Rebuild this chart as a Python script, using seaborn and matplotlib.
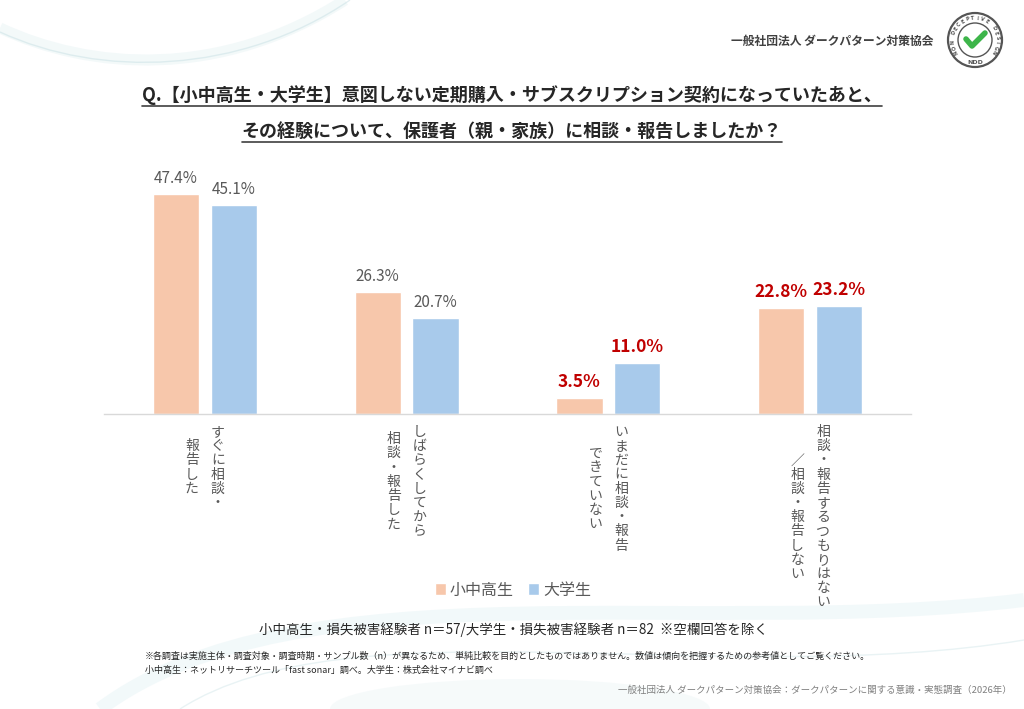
import matplotlib
matplotlib.use("Agg")
import matplotlib.pyplot as plt
import matplotlib.patches as mpatches
from matplotlib.path import Path
from matplotlib.lines import Line2D
import seaborn as sns
import pandas as pd
import numpy as np

# data
categories = ["すぐに相談・報告した", "しばらくしてから相談・報告した",
              "いまだに相談・報告できていない", "相談・報告するつもりはない／相談・報告しない"]
# vertical label columns (right column first, as in tategaki)
label_columns = [["すぐに相談・", "報告した"],
                 ["しばらくしてから", "相談・報告した"],
                 ["いまだに相談・報告", "できていない"],
                 ["相談・報告するつもりはない", "／相談・報告しない"]]
groups = ["小中高生", "大学生"]
values_jhs = [47.4, 26.3, 3.5, 22.8]
values_uni = [45.1, 20.7, 11.0, 23.2]
highlight = [False, False, True, True]

colors = {"小中高生": "#F7C7AB", "大学生": "#A8CAEB"}
JP = ["Noto Sans CJK JP", "DejaVu Sans"]

df = pd.DataFrame({
    "category": categories * 2,
    "group": [groups[0]] * 4 + [groups[1]] * 4,
    "value": values_jhs + values_uni,
})

sns.set_theme(style="white")
plt.rcParams["font.family"] = JP

W, H = 1024, 709
fig = plt.figure(figsize=(W / 100, H / 100), dpi=100)
fig.patch.set_facecolor("white")

# faint background swooshes
bg = fig.add_axes([0, 0, 1, 1], zorder=-5)
bg.set_xlim(0, W)
bg.set_ylim(H, 0)
bg.axis("off")
def swoosh(pts, lw, color, alpha):
    codes = [Path.MOVETO] + [Path.CURVE4] * (len(pts) - 1)
    bg.add_patch(mpatches.PathPatch(Path(pts, codes), fill=False, lw=lw,
                                    edgecolor=color, alpha=alpha))
swoosh([(0, 28), (90, 70), (220, 80), (345, 0)], 8, "#DDEEF0", 0.35)
swoosh([(0, 32), (100, 78), (240, 75), (350, 0)], 1.0, "#C3DDE2", 0.45)
swoosh([(100, 709), (300, 560), (700, 640), (1024, 600)], 10, "#DCEFF2", 0.35)
swoosh([(180, 709), (350, 600), (720, 690), (1024, 640)], 1.0, "#C8E1E5", 0.4)
bg.add_patch(mpatches.Ellipse((520, 709), 380, 60, color="#EEF6F7", alpha=0.5, lw=0))

ax = fig.add_axes([104 / W, 1 - 414 / H, 807 / W, 232 / H])
sns.barplot(data=df, x="category", y="value", hue="group", hue_order=groups,
            order=categories, palette=colors, width=0.574, gap=0.2,
            saturation=1, ax=ax, legend=True)
ax.set_ylim(0, 50)
ax.set_xlim(-0.5, 3.5)
ax.set_xlabel("")
ax.set_ylabel("")
ax.set_yticks([])
ax.set_xticks(range(4))
ax.set_xticklabels([""] * 4)
ax.tick_params(axis="x", length=0)
for s in ["top", "right", "left"]:
    ax.spines[s].set_visible(False)
ax.spines["bottom"].set_color("#D9D9D9")
ax.spines["bottom"].set_linewidth(1)
ax.patch.set_alpha(0)

# value labels
for container, vals in zip(ax.containers, [values_jhs, values_uni]):
    for bar, v, hl in zip(container, vals, highlight):
        x = bar.get_x() + bar.get_width() / 2
        if hl:
            ax.annotate(f"{v:.1f}%", (x, v), xytext=(0, 5), textcoords="offset points",
                        ha="center", va="bottom", fontsize=12.5, fontweight="bold",
                        color="#C00000", family=JP)
        else:
            ax.annotate(f"{v:.1f}%", (x, v), xytext=(0, 5), textcoords="offset points",
                        ha="center", va="bottom", fontsize=11, color="#595959", family=JP)

# vertical category labels (one character per step, columns right to left)
step = 14.2
top = 432
for i, cols in enumerate(label_columns):
    cx = 104 + (i + 0.5) * 807 / 4
    longest = max(len(c) for c in cols)
    mid = top + (longest - 1) * step / 2
    for j, col in enumerate(cols):
        x = cx + 13 - j * 26
        y0 = mid - (len(col) - 1) * step / 2
        for k, ch in enumerate(col):
            fig.text(x / W, 1 - (y0 + k * step) / H, ch, ha="center", va="center",
                     fontsize=10, color="#595959", family=JP)

# legend
handles, labels = ax.get_legend_handles_labels()
ax.get_legend().remove()
fig.legend(handles, labels, loc="center", bbox_to_anchor=(513 / W, 1 - 590 / H),
           ncol=2, frameon=False, handlelength=0.7, handleheight=0.7,
           handletextpad=0.25, columnspacing=0.9,
           prop={"family": JP, "size": 11.5}, labelcolor="#595959")

# title with underlines
t1 = fig.text(512 / W, 1 - 95 / H,
              "Q.【小中高生・大学生】意図しない定期購入・サブスクリプション契約になっていたあと、",
              ha="center", va="center", fontsize=13, fontweight="bold", color="#262626", family=JP)
t2 = fig.text(512 / W, 1 - 131 / H,
              "その経験について、保護者（親・家族）に相談・報告しましたか？",
              ha="center", va="center", fontsize=13, fontweight="bold", color="#262626", family=JP)
fig.canvas.draw()
r = fig.canvas.get_renderer()
for t, yu in [(t1, 106), (t2, 142)]:
    bb = t.get_window_extent(r)
    fig.add_artist(Line2D([bb.x0 / W, bb.x1 / W], [1 - yu / H] * 2, color="#404040", lw=1.2))

# header
fig.text(933 / W, 1 - 41 / H, "一般社団法人 ダークパターン対策協会", ha="right", va="center",
         fontsize=8.5, fontweight="bold", color="#404040", family=JP)

# logo
lx, ly = 975, 40
la = fig.add_axes([(lx - 32) / W, 1 - (ly + 32) / H, 64 / W, 64 / H])
la.set_xlim(-32, 32)
la.set_ylim(-32, 32)
la.set_aspect("equal")
la.axis("off")
la.add_patch(mpatches.Circle((0, 0), 27, fill=False, lw=1.6, edgecolor="#555555"))
la.add_patch(mpatches.Circle((0, 0), 17, fill=False, lw=1.0, edgecolor="#555555"))
la.plot([-9, -3, 10], [1, -6, 7], color="#3DB54A", lw=4, solid_capstyle="round",
        solid_joinstyle="round")
ring = "NON DECEPTIVE DESIGN"
angs = np.linspace(212, -32, len(ring))
for ch, a in zip(ring, angs):
    rad = np.deg2rad(a)
    la.text(22 * np.cos(rad), 22 * np.sin(rad), ch, rotation=a - 90, ha="center",
            va="center", fontsize=3.6, fontweight="bold", color="#555555",
            family=["DejaVu Sans"], rotation_mode="anchor")
la.text(0, -22, "NDD", ha="center", va="center", fontsize=4.5, fontweight="bold",
        color="#555555", family=["DejaVu Sans"])

# sample size note
fig.text(513 / W, 1 - 630 / H,
         "小中高生・損失被害経験者 n＝57/大学生・損失被害経験者 n＝82  ※空欄回答を除く",
         ha="center", va="center", fontsize=9.7, color="#262626", family=JP)

# footnotes
fig.text(145 / W, 1 - 656 / H,
         "※各調査は実施主体・調査対象・調査時期・サンプル数（n）が異なるため、単純比較を目的としたものではありません。数値は傾向を把握するための参考値としてご覧ください。",
         ha="left", va="center", fontsize=6.5, color="#262626", family=JP)
fig.text(145 / W, 1 - 670 / H,
         "小中高生：ネットリサーチツール「fast sonar」調べ。大学生：株式会社マイナビ調べ",
         ha="left", va="center", fontsize=6.5, color="#262626", family=JP)
fig.text(1012 / W, 1 - 690 / H,
         "一般社団法人 ダークパターン対策協会：ダークパターンに関する意識・実態調査（2026年）",
         ha="right", va="center", fontsize=6.8, color="#808080", family=JP)

fig.savefig("out.png", dpi=100, facecolor="white")
